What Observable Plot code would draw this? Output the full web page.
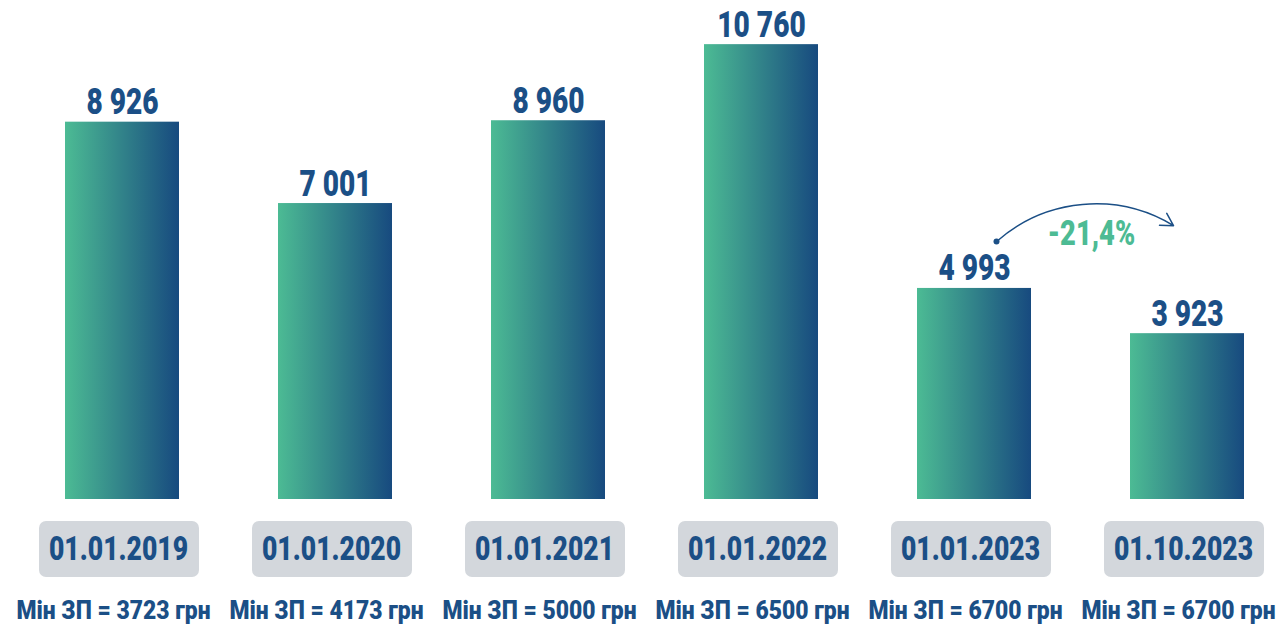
<!DOCTYPE html>
<html>
<head>
<meta charset="utf-8">
<script src="https://cdn.jsdelivr.net/npm/d3@7"></script>
<script src="https://cdn.jsdelivr.net/npm/@observablehq/plot@0.6"></script>
<style>
  html, body { margin: 0; padding: 0; background: #ffffff; }
  #chart svg { display: block; }
</style>
</head>
<body>
<div id="chart"></div>
<script>
// ---- data ----
const dates = ["01.01.2019", "01.01.2020", "01.01.2021", "01.01.2022", "01.01.2023", "01.10.2023"];
const values = [8926, 7001, 8960, 10760, 4993, 3923];
const minWages = [3723, 4173, 5000, 6500, 6700, 6700];
const change = [{from: "01.01.2023", to: "01.10.2023", yFrom: 5524, yTo: 6250, yDot: 6104, label: "-21,4%"}];

const rows = dates.map((d, i) => ({date: d, value: values[i], wage: minWages[i]}));

const FONT = "Roboto, 'Noto Sans', sans-serif";
const BLUE = "#1b4f86";
const GREEN = "#4dbb94";
const fmt = v => d3.format(",")(v).replace(/,/g, " ");

// horizontal condensing per text size (styling only)
const squeeze = {"37": 0.76, "34": 0.78, "26": 0.88, "35": 0.78};

const chart = Plot.plot({
  width: 1286,
  height: 625,
  marginTop: 34,
  marginBottom: 126,
  marginLeft: 30,
  marginRight: 8,
  x: {type: "band", domain: dates, paddingInner: 0.467, paddingOuter: 0.15, axis: null},
  y: {domain: [0, 11000], axis: null},
  marks: [
    Plot.barY(rows, {x: "date", y: "value", fill: "url(#barGrad)"}),
    Plot.text(rows, {x: "date", y: "value", text: d => fmt(d.value), lineAnchor: "bottom", dy: -8,
      fontFamily: FONT, fontWeight: 900, fontSize: 37, fill: BLUE}),
    Plot.barY(rows, {x: "date", y1: 0, y2: 0, insetTop: 22, insetBottom: -78, insetLeft: -26, insetRight: -20,
      rx: 7, fill: "#d3d7dc"}),
    Plot.text(rows, {x: "date", y: 0, text: "date", lineAnchor: "middle", dy: 50, dx: -4,
      fontFamily: FONT, fontWeight: 900, fontSize: 34, fill: BLUE}),
    Plot.text(rows, {x: "date", y: 0, text: d => `Мін ЗП = ${d.wage} грн`, lineAnchor: "middle", dy: 111, dx: -9,
      fontFamily: FONT, fontWeight: 900, fontSize: 26, fill: BLUE}),
    Plot.arrow(change, {x1: "from", y1: "yFrom", x2: "to", y2: "yTo", bend: 46, insetStart: 33, insetEnd: 17,
      stroke: BLUE, strokeWidth: 1.5, headLength: 14}),
    Plot.dot(change, {x: "from", y: "yDot", dx: 22, r: 3, fill: BLUE}),
    Plot.text(change, {x: "from", y: "yDot", text: "label", dx: 117, dy: -8, lineAnchor: "middle",
      fontFamily: FONT, fontWeight: 900, fontSize: 35, fill: GREEN})
  ]
});

const svg = d3.select(chart);
const grad = svg.insert("defs", ":first-child").append("linearGradient")
  .attr("id", "barGrad").attr("x1", 0).attr("x2", 1).attr("y1", 0).attr("y2", 0);
grad.append("stop").attr("offset", "0%").attr("stop-color", "#4cbb94");
grad.append("stop").attr("offset", "100%").attr("stop-color", "#174a7f");

svg.selectAll("text").each(function () {
  const g = this.closest("g[font-size]");
  const s = g ? squeeze[g.getAttribute("font-size")] : null;
  if (!s) return;
  const t = d3.select(this);
  const tr = t.attr("transform") || "";
  t.attr("transform", `${tr} scale(${s},1)`);
});

document.getElementById("chart").appendChild(chart);
</script>
</body>
</html>
